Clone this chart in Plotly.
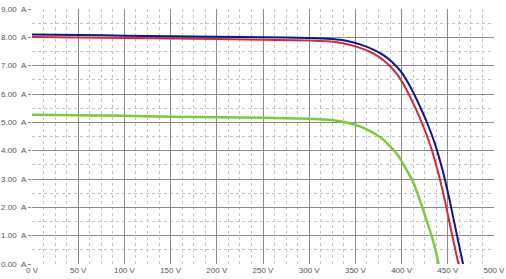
import plotly.graph_objects as go

blue_v = [0, 50, 100, 150, 200, 250, 300, 325, 340, 355, 370, 380, 390, 400, 410, 420, 428, 436, 444, 452, 459, 466.5]
blue_i = [8.10, 8.08, 8.06, 8.04, 8.02, 8.00, 7.98, 7.94, 7.88, 7.75, 7.56, 7.38, 7.12, 6.76, 6.22, 5.55, 4.95, 4.25, 3.35, 2.25, 1.15, 0.0]

red_v = [0, 100, 200, 300, 320, 335, 350, 365, 375, 385, 395, 405, 415, 423, 431, 439, 447, 454, 461.5]
red_i = [8.01, 7.98, 7.94, 7.89, 7.86, 7.80, 7.68, 7.50, 7.32, 7.06, 6.70, 6.17, 5.50, 4.90, 4.20, 3.30, 2.22, 1.13, 0.0]

green_v = [0, 50, 100, 150, 200, 250, 300, 320, 335, 345, 355, 366, 377, 387, 395, 402, 408, 413, 418, 423, 428, 433, 437, 440]
green_i = [5.27, 5.25, 5.23, 5.20, 5.18, 5.16, 5.13, 5.09, 5.03, 4.96, 4.86, 4.69, 4.47, 4.17, 3.88, 3.52, 3.17, 2.85, 2.42, 1.94, 1.45, 0.95, 0.45, 0.0]

x_ticks = [0, 50, 100, 150, 200, 250, 300, 350, 400, 450, 500]
x_labels = [f"{v} V" for v in x_ticks]
y_ticks = [0, 1, 2, 3, 4, 5, 6, 7, 8, 9]
y_labels = [f"{v:.2f}\u00a0\u00a0A" for v in y_ticks]

fig = go.Figure()
fig.add_trace(go.Scatter(x=green_v, y=green_i, mode="lines",
                         line=dict(color="#7ccc3a", width=2.5, shape="spline", smoothing=0.5)))
fig.add_trace(go.Scatter(x=red_v, y=red_i, mode="lines",
                         line=dict(color="#d3283c", width=2, shape="spline", smoothing=0.5)))
fig.add_trace(go.Scatter(x=blue_v, y=blue_i, mode="lines",
                         line=dict(color="#141482", width=2, shape="spline", smoothing=0.5)))

axis_common = dict(
    showgrid=True, gridcolor="#8a8a8a", gridwidth=1,
    zeroline=False, showline=False, automargin=False,
    tickfont=dict(family="Liberation Sans, Arial", size=8, color="#555555"),
)
fig.update_xaxes(range=[0, 500], tickvals=x_ticks, ticktext=x_labels, ticks="",
                 minor=dict(dtick=12.5, tick0=0, showgrid=True, gridcolor="#c4c4c4", griddash="dot", gridwidth=1),
                 **axis_common)
fig.update_yaxes(range=[0, 9], tickvals=y_ticks, ticktext=y_labels,
                 ticks="outside", ticklen=3, tickcolor="#8a8a8a",
                 minor=dict(dtick=0.5, tick0=0, showgrid=True, gridcolor="#c4c4c4", griddash="dot", gridwidth=1),
                 **axis_common)
fig.update_layout(
    width=506, height=279,
    margin=dict(l=32, r=12, t=9, b=15),
    paper_bgcolor="white", plot_bgcolor="white",
    showlegend=False,
)
fig.write_html("out.html")
